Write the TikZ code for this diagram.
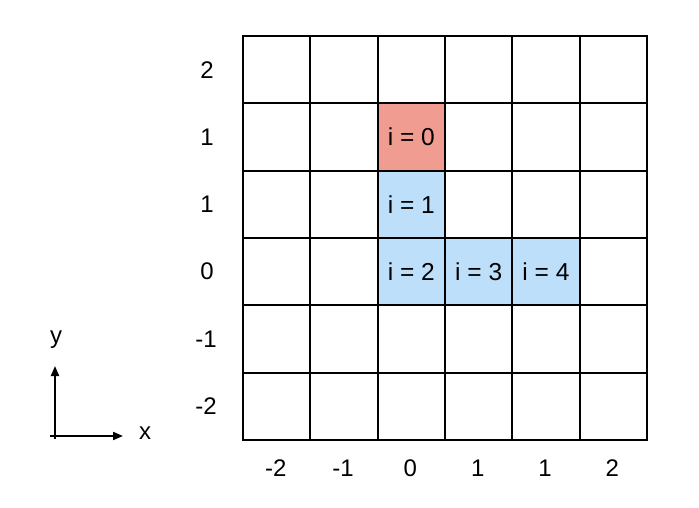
\documentclass[tikz,border=0pt]{standalone}
\usepackage{fontspec}
\setmainfont{Liberation Sans}
\usetikzlibrary{arrows.meta}
\definecolor{redcell}{HTML}{F19C91}
\definecolor{bluecell}{HTML}{BDDFFA}
\tikzset{
  cell/.style={minimum width=67.33pt, minimum height=67.33pt, inner sep=0pt, outer sep=0pt, font=\fontsize{24.5}{26}\selectfont},
  gridline/.style={draw=black, line width=2pt, line cap=rect},
  lbl/.style={inner sep=0pt, font=\fontsize{24}{26}\selectfont},
  axis/.style={line width=2pt, -{Triangle[length=10pt,width=8pt]}}
}
\begin{document}
\begin{tikzpicture}[x=1pt,y=-1pt]
\useasboundingbox (0,0) rectangle (699,507);
% grid cells
\foreach \c in {0,...,5}{
  \foreach \r in {0,...,5}{
    \node[cell] (cell-\c-\r) at ({243+67.33*(\c+0.5)},{36+67.33*(\r+0.5)}) {};
  }
}
% coloured cells
\node[cell, fill=redcell] (s0) at (cell-2-1) {i = 0};
\node[cell, fill=bluecell] (s1) at (cell-2-2) {i = 1};
\node[cell, fill=bluecell] (s2) at (cell-2-3) {i = 2};
\node[cell, fill=bluecell] (s3) at (cell-3-3) {i = 3};
\node[cell, fill=bluecell] (s4) at (cell-4-3) {i = 4};
% grid lines
\foreach \k in {0,...,6}{
  \draw[gridline] ({243+67.33*\k},36) -- ({243+67.33*\k},440);
  \draw[gridline] (243,{36+67.33*\k}) -- (647,{36+67.33*\k});
}
% row labels
\node[lbl] (r0) at (207,69.7) {2};
\node[lbl] (r1) at (207,137) {1};
\node[lbl] (r2) at (207,204.3) {1};
\node[lbl] (r3) at (207,271.7) {0};
\node[lbl] (r4) at (206,339) {-1};
\node[lbl] (r5) at (206,406.3) {-2};
% column labels
\node[lbl] (k0) at (275.7,468) {-2};
\node[lbl] (k1) at (343,468) {-1};
\node[lbl] (k2) at (410.3,468) {0};
\node[lbl] (k3) at (477.7,468) {1};
\node[lbl] (k4) at (545,468) {1};
\node[lbl] (k5) at (612.3,468) {2};
% axes
\coordinate (xstart) at (50,436);
\coordinate (ystart) at (55,439);
\coordinate (xtip) at (123,436);
\coordinate (ytip) at (55,366);
\node[lbl] (ylab) at (56,340) {y};
\node[lbl] (xlab) at (145,433) {x};
\draw[axis] (ystart) -- (ytip);
\draw[axis] (xstart) -- (xtip);
\end{tikzpicture}
\end{document}
